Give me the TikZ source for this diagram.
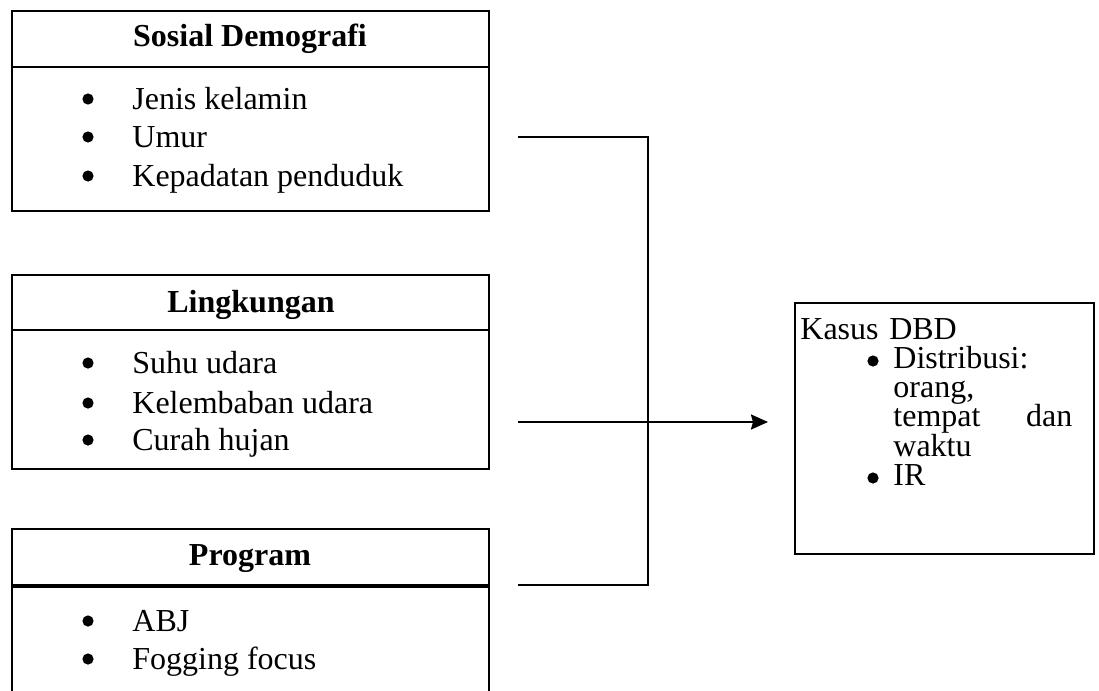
\documentclass[tikz,border=0pt]{standalone}
\usepackage{fontspec}
\setmainfont{Liberation Serif}
\usetikzlibrary{arrows.meta,positioning,calc}
\newcommand\txtsize{\fontsize{16}{18}\selectfont}
\newcommand\kassize{\fontsize{16}{14.6}\selectfont\lineskiplimit=-20pt\relax}
\newcommand\kind{\hspace*{46.5pt}}
\tikzset{
  frame/.style={draw=black, line width=1.1pt},
  head/.style={font=\txtsize\bfseries, anchor=center, inner sep=0pt},
  item/.style={anchor=base west, inner sep=0pt},
  kblock/.style={anchor=north west, inner sep=0pt, text width=146pt, align=left, font=\kassize},
  dot/.style={circle, fill=black, inner sep=0pt, minimum size=5.6pt},
  link/.style={draw=black, line width=1.1pt},
  arrow/.style={-{Stealth[length=8.5pt,width=7.5pt,inset=1pt]}, line width=1.1pt},
}

\begin{document}
\begin{tikzpicture}[x=0.5pt,y=-0.5pt,font=\txtsize]
  \useasboundingbox (0,0) rectangle (1099,691);

  % Sosial Demografi
  \draw[frame] (12,11) rectangle (489,211);
  \draw[frame] (12,67) -- (489,67);
  \node[head] (sosial) at (250,39) {Sosial Demografi};
  \foreach \y/\t in {99/Jenis kelamin,137/Umur,176/Kepadatan penduduk}{
    \node[dot] (sdot\y) at (88,\y) {};
    \node[item] (sitem\y) at (132,\y+10.5) {\t};
  }

  % Lingkungan
  \draw[frame] (12,275) rectangle (489,469);
  \draw[frame] (12,330) -- (489,330);
  \node[head] (lingk) at (251,305) {Lingkungan};
  \foreach \y/\t in {363/Suhu udara,403/Kelembaban udara,440/Curah hujan}{
    \node[dot] (ldot\y) at (88,\y) {};
    \node[item] (litem\y) at (132,\y+10.5) {\t};
  }

  % Program
  \draw[frame] (12,691) -- (12,529) -- (489,529) -- (489,691);
  \draw[frame, line width=1.8pt] (12,586) -- (489,586);
  \node[head] (prog) at (250,559) {Program};
  \foreach \y/\t in {621/ABJ,659/Fogging focus}{
    \node[dot] (pdot\y) at (88,\y) {};
    \node[item] (pitem\y) at (132,\y+10.5) {\t};
  }

  % Kasus DBD
  \node[frame, anchor=north west, minimum width=149.5pt, minimum height=125.5pt,
        inner sep=0pt] (kasus) at (794,302) {};
  \node[kblock] (kbody) at (800,318) {Kasus DBD\\
    \kind Distribusi:\\
    \kind orang,\\
    \kind\makebox[89.5pt][l]{tempat\hfill dan}\\
    \kind waktu\\
    \kind IR};
  \node[dot] (kdot1) at (873,361) {};
  \node[dot] (kdot2) at (873,478) {};

  % connectors
  \coordinate (inTop) at (518,137);
  \coordinate (inMid) at (518,422);
  \coordinate (inBot) at (518,585);
  \coordinate (joinTop) at (648,137);
  \coordinate (joinBot) at (648,585);
  \draw[link] (inTop) -- (joinTop) -- (joinBot) -- (inBot);
  \draw[arrow, shorten >=13pt] (inMid) -- (inMid -| kasus.west);
\end{tikzpicture}
\end{document}
